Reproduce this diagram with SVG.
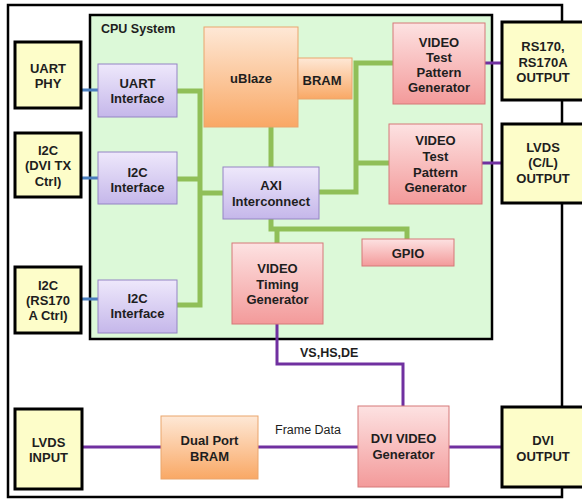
<svg xmlns="http://www.w3.org/2000/svg" width="582" height="499" viewBox="0 0 582 499">
<defs>
<linearGradient id="gPurple" x1="0" y1="0" x2="0" y2="1"><stop offset="0" stop-color="#eee8fb"/><stop offset="1" stop-color="#c5b7ea"/></linearGradient>
<linearGradient id="gOrange" x1="0" y1="0" x2="0" y2="1"><stop offset="0" stop-color="#fee8d6"/><stop offset="1" stop-color="#f9a865"/></linearGradient>
<linearGradient id="gPink" x1="0" y1="0" x2="0" y2="1"><stop offset="0" stop-color="#fde2e2"/><stop offset="1" stop-color="#f39a9a"/></linearGradient>
</defs>
<style>
text{font-family:"Liberation Sans",Arial,sans-serif;font-size:13px;font-weight:bold;fill:#1e1e1e;text-anchor:middle}
.yel{fill:#fdfdc9;stroke:#000;stroke-width:3}
.pur{fill:url(#gPurple);stroke:#9484c4;stroke-width:1}
.ora{fill:url(#gOrange);stroke:#eaa56c;stroke-width:1}
.pnk{fill:url(#gPink);stroke:#d57878;stroke-width:1}
.grn{fill:none;stroke:#90bf58;stroke-width:5}
.blu{fill:none;stroke:#4a7fbf;stroke-width:3}
.vio{fill:none;stroke:#7030a0;stroke-width:3}
.lbl{text-anchor:start;font-size:12.5px}
</style>
<rect id="frame" x="8" y="5" width="554" height="492" fill="#fff" stroke="#000" stroke-width="2.5"/>
<g id="cpu">
<rect x="90" y="15" width="402" height="324" fill="#dcf9d8" stroke="#000" stroke-width="2.5"/>
<text x="101" y="33" style="text-anchor:start;font-size:12.5px">CPU System</text>
</g>
<g id="connectors">
<path class="blu" d="M81 90H98M81 178H98M81 299H98"/>
<path class="grn" d="M177 91H200V305H177M177 179H200M200 193H223M271 127V167M319 192H356V63H393M356 163H389M271 219V229H407V239M277 229V243"/>
<path class="vio" d="M485 63H502M482 163H502M277 324V364H403V406M82 447H161M258 447H358M449 447H502"/>
<text class="lbl" x="300" y="357">VS,HS,DE</text>
<text class="lbl" x="275" y="434" style="font-weight:normal">Frame Data</text>
</g>
<g id="uart_phy"><rect class="yel" x="15" y="42" width="66" height="66"/><text x="48" y="73">UART</text><text x="48" y="88">PHY</text></g>
<g id="i2c_dvi"><rect class="yel" x="15" y="133" width="66" height="64"/><text x="48" y="155">I2C</text><text x="48" y="170">(DVI TX</text><text x="48" y="186">Ctrl)</text></g>
<g id="i2c_rs170"><rect class="yel" x="15" y="267" width="66" height="66"/><text x="48" y="290">I2C</text><text x="48" y="305">(RS170</text><text x="48" y="320">A Ctrl)</text></g>
<g id="uart_if"><rect class="pur" x="98" y="64" width="79" height="53"/><text x="137.5" y="88">UART</text><text x="137.5" y="103">Interface</text></g>
<g id="i2c_if1"><rect class="pur" x="98" y="152" width="79" height="52"/><text x="137.5" y="177">I2C</text><text x="137.5" y="192">Interface</text></g>
<g id="i2c_if2"><rect class="pur" x="98" y="280" width="79" height="53"/><text x="137.5" y="303">I2C</text><text x="137.5" y="318">Interface</text></g>
<g id="ublaze"><rect class="ora" x="204" y="27" width="94" height="100"/><text x="251" y="83">uBlaze</text></g>
<g id="bram"><rect class="ora" x="298" y="58" width="54" height="41"/><text x="322" y="85">BRAM</text></g>
<g id="vtpg1"><rect class="pnk" x="393" y="23" width="92" height="81"/><text x="439" y="47">VIDEO</text><text x="439" y="62">Test</text><text x="439" y="77">Pattern</text><text x="439" y="92">Generator</text></g>
<g id="vtpg2"><rect class="pnk" x="389" y="124" width="93" height="80"/><text x="435.5" y="145">VIDEO</text><text x="435.5" y="161">Test</text><text x="435.5" y="177">Pattern</text><text x="435.5" y="192">Generator</text></g>
<g id="axi"><rect class="pur" x="223" y="167" width="96" height="52"/><text x="271" y="190">AXI</text><text x="271" y="206">Interconnect</text></g>
<g id="gpio"><rect class="pnk" x="362" y="239" width="92" height="27"/><text x="408" y="258">GPIO</text></g>
<g id="vtg"><rect class="pnk" x="232" y="243" width="91" height="81"/><text x="277.5" y="273">VIDEO</text><text x="277.5" y="289">Timing</text><text x="277.5" y="304">Generator</text></g>
<g id="rs170_out"><rect class="yel" x="502" y="22" width="84" height="78"/><text x="543" y="51">RS170,</text><text x="543" y="67">RS170A</text><text x="543" y="82">OUTPUT</text></g>
<g id="lvds_out"><rect class="yel" x="502" y="124" width="84" height="79"/><text x="543" y="152">LVDS</text><text x="543" y="167">(C/L)</text><text x="543" y="183">OUTPUT</text></g>
<g id="lvds_in"><rect class="yel" x="15" y="409" width="67" height="80"/><text x="48.5" y="447">LVDS</text><text x="48.5" y="462">INPUT</text></g>
<g id="dual_bram"><rect class="ora" x="161" y="416" width="97" height="63"/><text x="209.5" y="445">Dual Port</text><text x="209.5" y="461">BRAM</text></g>
<g id="dvi_gen"><rect class="pnk" x="358" y="406" width="91" height="81"/><text x="403.5" y="443">DVI VIDEO</text><text x="403.5" y="459">Generator</text></g>
<g id="dvi_out"><rect class="yel" x="502" y="407" width="84" height="80"/><text x="543" y="445">DVI</text><text x="543" y="461">OUTPUT</text></g>
</svg>
